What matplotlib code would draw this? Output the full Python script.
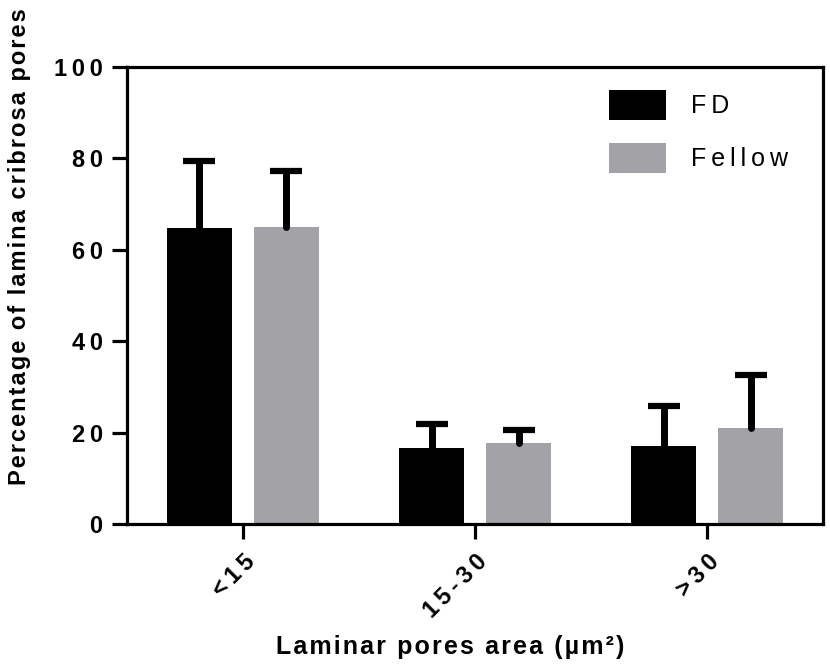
import numpy as np
import matplotlib.pyplot as plt
from matplotlib.patches import Patch

plt.rcParams['font.family'] = ['Liberation Sans', 'DejaVu Sans']

# pore area classes and group means / SD (percent of pores)
categories = ['<15', '15-30', '>30']
fd_mean = [64.7, 16.6, 17.0]
fd_sd = [14.7, 5.2, 8.9]
fellow_mean = [65.0, 17.7, 21.1]
fellow_sd = [12.2, 2.9, 11.6]
y_ticks = [0, 20, 40, 60, 80, 100]

FD_COLOR = '#000000'
FELLOW_COLOR = '#a3a2a7'
THIN = '\u2009'
HAIR = '\u200a'


def spaced(s, sep=THIN):
    return sep.join(s)


fig = plt.figure(figsize=(8.3, 6.66), dpi=100)
ax = fig.add_axes([0.153, 0.2132, 0.8386, 0.6862])

x = np.arange(len(categories))
w = 0.28
off = 0.1875

ax.bar(x - off, fd_mean, w, color=FD_COLOR, zorder=2)
ax.bar(x + off, fellow_mean, w, color=FELLOW_COLOR, zorder=2)

# upper-only error bars: stem from the bar top, cap at mean + SD
for xs, m, sd in [(x - off, fd_mean, fd_sd), (x + off, fellow_mean, fellow_sd)]:
    top = np.array(m) + np.array(sd)
    stems = ax.vlines(xs, m, top, colors='black', linewidth=5, zorder=3)
    stems.set_capstyle('round')
    ax.plot(xs, top, linestyle='none', marker='_', markersize=23,
            markeredgewidth=4.5, color='black', zorder=3)

ax.set_xlim(-0.5, 2.5)
ax.set_ylim(0, 100)

for sp in ax.spines.values():
    sp.set_linewidth(2.3)

ax.set_yticks(y_ticks)
ax.set_yticklabels([spaced(str(t)) for t in y_ticks], fontsize=17, fontweight='bold')
ax.set_xticks(x)
ax.set_xticklabels([spaced(c) for c in categories], fontsize=17, fontweight='bold',
                   rotation=45, ha='right', rotation_mode='anchor')
ax.tick_params(axis='both', direction='out', length=10.5, width=2.3)
ax.tick_params(axis='x', pad=8)
ax.tick_params(axis='y', pad=7)

ax.set_ylabel(spaced('Percentage of lamina cribrosa pores', HAIR), fontsize=17,
              fontweight='bold')
ax.yaxis.set_label_coords(-0.138, 0.608)
ax.set_xlabel(spaced('Laminar pores area (µm²)', HAIR), fontsize=18,
              fontweight='bold')
ax.xaxis.set_label_coords(0.464, -0.243)

handles = [Patch(facecolor=FD_COLOR), Patch(facecolor=FELLOW_COLOR)]
ax.legend(handles, [spaced('FD'), spaced('Fellow')], loc='upper left',
          bbox_to_anchor=(0.6925, 0.95), frameon=False, fontsize=18,
          handlelength=2.28, handleheight=1.47, handletextpad=1.0,
          labelspacing=0.92, borderpad=0, borderaxespad=0)

fig.savefig('out.png', dpi=100)
